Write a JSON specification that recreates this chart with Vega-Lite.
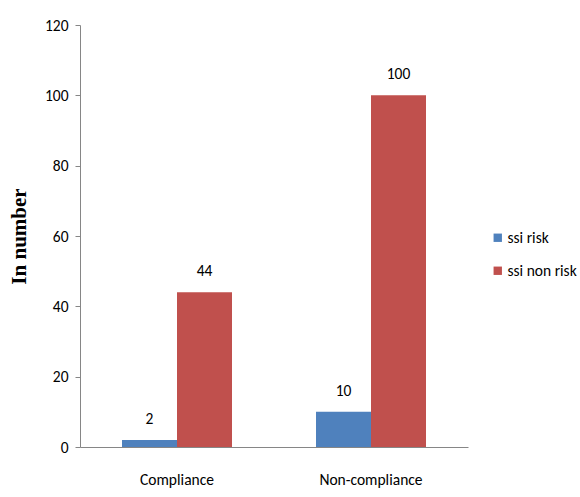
{
  "$schema": "https://vega.github.io/schema/vega-lite/v6.json",
  "width": 388,
  "height": 422,
  "autosize": {"type": "none"},
  "padding": {"left": 80, "top": 25, "right": 112, "bottom": 50},
  "background": "white",
  "config": {
    "view": {"stroke": null},
    "font": "Carlito, Liberation Sans Narrow, Open Sans, sans-serif"
  },
  "data": {
    "values": [
      {"group": "Compliance", "series": "ssi risk", "value": 2},
      {"group": "Compliance", "series": "ssi non risk", "value": 44},
      {"group": "Non-compliance", "series": "ssi risk", "value": 10},
      {"group": "Non-compliance", "series": "ssi non risk", "value": 100}
    ]
  },
  "encoding": {
    "x": {
      "field": "group",
      "type": "nominal",
      "sort": ["Compliance", "Non-compliance"],
      "scale": {"paddingInner": 0.433, "paddingOuter": 0.2165},
      "axis": {
        "title": null,
        "labelAngle": 0,
        "labelFontSize": 15.5,
        "labelColor": "#000000",
        "labelPadding": 25,
        "ticks": false,
        "domainColor": "#868686",
        "labelFont": "Carlito, Liberation Sans Narrow, Open Sans, sans-serif"
      }
    },
    "xOffset": {"field": "series", "type": "nominal", "sort": ["ssi risk", "ssi non risk"]},
    "y": {
      "field": "value",
      "type": "quantitative",
      "scale": {"domain": [0, 120], "nice": false},
      "axis": {
        "title": "In number",
        "titleFont": "Liberation Serif",
        "titleFontSize": 21,
        "titleFontWeight": "bold",
        "titleColor": "#000000",
        "titlePadding": 15,
        "values": [0, 20, 40, 60, 80, 100, 120],
        "grid": false,
        "domainColor": "#868686",
        "tickColor": "#868686",
        "tickSize": 5,
        "labelPadding": 7,
        "labelFontSize": 15.5,
        "labelColor": "#000000"
      }
    }
  },
  "layer": [
    {
      "mark": {"type": "bar"},
      "encoding": {
        "color": {
          "field": "series",
          "type": "nominal",
          "sort": ["ssi risk", "ssi non risk"],
          "scale": {"domain": ["ssi risk", "ssi non risk"], "range": ["#4F81BD", "#C0504D"]},
          "legend": {
            "title": null,
            "orient": "none",
            "legendX": 410,
            "legendY": 205,
            "symbolType": "square",
            "symbolSize": 70,
            "symbolStrokeWidth": 0,
            "labelFontSize": 15.5,
            "labelColor": "#000000",
            "rowPadding": 16,
            "labelOffset": 2
          }
        }
      }
    },
    {
      "mark": {"type": "text", "baseline": "alphabetic", "dy": -16, "fontSize": 15.5, "color": "#000000"},
      "encoding": {"text": {"field": "value", "type": "quantitative"}}
    }
  ]
}
